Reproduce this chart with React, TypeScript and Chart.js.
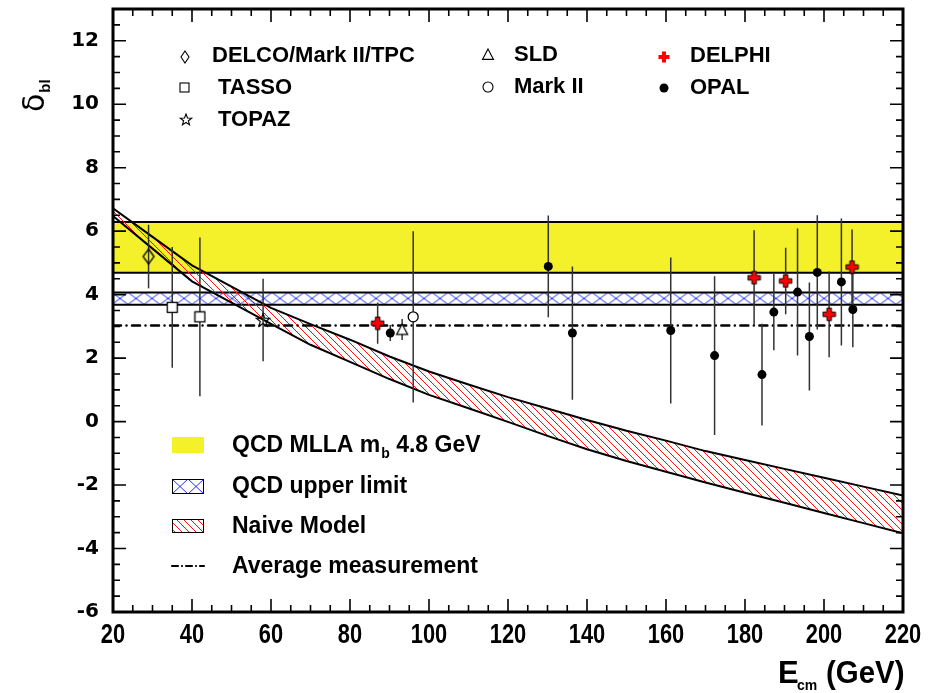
import React, { useEffect, useRef } from 'react';
import { Chart, registerables } from 'chart.js';

Chart.register(...registerables);

// ---------------- data ----------------
const X_MIN = 20, X_MAX = 220, X_MAJOR = 20, X_MINOR = 5;
const Y_MIN = -6, Y_MAX = 13, Y_MAJOR = 2, Y_MINOR = 0.5, Y_TICK_TOP = 12;

const delcoE = [29];
const delcoD = [5.2];
const delcoErr = [1.0];

const tassoE = [35, 42];
const tassoD = [3.6, 3.3];
const tassoErr = [1.9, 2.5];

const topazE = [58];
const topazD = [3.2];
const topazErr = [1.3];

const sldE = [93.2];
const sldD = [2.9];
const sldErr = [0.33];

const mark2E = [96];
const mark2D = [3.3];
const mark2Err = [2.7];

const delphiE = [87, 182.3, 190.3, 201.3, 207.1];
const delphiD = [3.1, 4.53, 4.43, 3.38, 4.87];
const delphiErr = [0.65, 1.5, 1.05, 1.35, 1.18];

const opalE = [90.2, 130.2, 136.3, 161.2, 172.3, 184.3, 187.3, 193.3, 196.3, 198.3, 204.4, 207.3];
const opalD = [2.79, 4.89, 2.79, 2.87, 2.08, 1.48, 3.45, 4.08, 2.68, 4.7, 4.4, 3.53];
const opalErr = [0.25, 1.6, 2.1, 2.3, 2.5, 1.6, 1.2, 2.0, 1.7, 1.8, 2.0, 1.19];

const mllaBand = [4.69, 6.29];
const upperLimitBand = [3.68, 4.07];
const averageValue = 3.03;

const naiveE = [20, 30, 40, 50, 60, 70, 80, 90, 100, 110, 120, 130, 140, 150, 160, 170, 180, 190, 200, 210, 220];
const naiveUpper = [6.72, 5.82, 4.92, 4.25, 3.58, 3.07, 2.58, 2.05, 1.58, 1.17, 0.77, 0.41, 0.05, -0.29, -0.6, -0.93, -1.21, -1.49, -1.77, -2.05, -2.33];
const naiveLower = [6.48, 5.45, 4.42, 3.75, 3.08, 2.42, 1.88, 1.34, 0.84, 0.42, -0.01, -0.45, -0.87, -1.24, -1.58, -1.92, -2.24, -2.56, -2.88, -3.2, -3.52];

const topLegend = ['DELCO/Mark II/TPC', 'TASSO', 'TOPAZ', 'SLD', 'Mark II', 'DELPHI', 'OPAL'];
const bottomLegend = ['QCD MLLA m', 'b', ' 4.8 GeV', 'QCD upper limit', 'Naive Model', 'Average measurement'];

// ---------------- styles ----------------
const YELLOW = '#f4f02a';
const SANS = '"Liberation Sans", Arial, sans-serif';

const pts = (xs: number[], ys: number[]) => xs.map((x, i) => ({ x, y: ys[i] }));

function pathDiamond(g: CanvasRenderingContext2D, cx: number, cy: number, w: number, h: number) {
  g.beginPath();
  g.moveTo(cx, cy - h / 2);
  g.lineTo(cx + w / 2, cy);
  g.lineTo(cx, cy + h / 2);
  g.lineTo(cx - w / 2, cy);
  g.closePath();
}
function pathStar(g: CanvasRenderingContext2D, cx: number, cy: number, R: number) {
  const r = R * 0.42;
  g.beginPath();
  for (let i = 0; i < 10; i++) {
    const ang = -Math.PI / 2 + (i * Math.PI) / 5;
    const rr = i % 2 === 0 ? R : r;
    const x = cx + rr * Math.cos(ang), y = cy + rr * Math.sin(ang);
    if (i === 0) g.moveTo(x, y); else g.lineTo(x, y);
  }
  g.closePath();
}
function pathTriangle(g: CanvasRenderingContext2D, cx: number, cy: number, s: number) {
  g.beginPath();
  g.moveTo(cx, cy - s * 0.55);
  g.lineTo(cx + s / 2, cy + s * 0.4);
  g.lineTo(cx - s / 2, cy + s * 0.4);
  g.closePath();
}
function pathCross(g: CanvasRenderingContext2D, cx: number, cy: number, s: number, t: number) {
  const a = s / 2, b = t / 2;
  g.beginPath();
  g.moveTo(cx - b, cy - a); g.lineTo(cx + b, cy - a); g.lineTo(cx + b, cy - b);
  g.lineTo(cx + a, cy - b); g.lineTo(cx + a, cy + b); g.lineTo(cx + b, cy + b);
  g.lineTo(cx + b, cy + a); g.lineTo(cx - b, cy + a); g.lineTo(cx - b, cy + b);
  g.lineTo(cx - a, cy + b); g.lineTo(cx - a, cy - b); g.lineTo(cx - b, cy - b);
  g.closePath();
}

function markerCanvas(w: number, h: number, draw: (g: CanvasRenderingContext2D) => void) {
  const c = document.createElement('canvas');
  c.width = w; c.height = h;
  const g = c.getContext('2d')!;
  draw(g);
  return c;
}

function makeHatch(s: number, color: string) {
  const c = document.createElement('canvas');
  c.width = s; c.height = s;
  const g = c.getContext('2d')!;
  g.strokeStyle = color; g.lineWidth = 1;
  g.beginPath();
  g.moveTo(-1, -1); g.lineTo(s + 1, s + 1);
  g.moveTo(-1, s - 1); g.lineTo(1, s + 1);
  g.moveTo(s - 1, -1); g.lineTo(s + 1, 1);
  g.stroke();
  return g.createPattern(c, 'repeat')!;
}
function makeCross(w: number, h: number, color: string) {
  const c = document.createElement('canvas');
  c.width = w; c.height = h;
  const g = c.getContext('2d')!;
  g.strokeStyle = color; g.lineWidth = 1;
  g.beginPath();
  g.moveTo(0, 0); g.lineTo(w, h);
  g.moveTo(0, h); g.lineTo(w, 0);
  g.stroke();
  return g.createPattern(c, 'repeat')!;
}

const AVG_DASH = [8, 5.5, 0.01, 5.5];

export default function App() {
  const ref = useRef<HTMLCanvasElement>(null);

  useEffect(() => {
    const canvas = ref.current!;
    const redHatch = makeHatch(7, '#ff1010');
    const blueCross = makeCross(16, 12, '#2030ff');
    const legendCross = makeCross(16, 15, '#2030ff');

    const diamondImg = markerCanvas(14, 18, (g) => {
      pathDiamond(g, 7, 9, 11, 15); g.strokeStyle = '#000'; g.lineWidth = 1.3; g.stroke();
    });
    const squareImg = markerCanvas(13, 13, (g) => {
      g.fillStyle = '#fff'; g.fillRect(1, 1, 11, 11);
      g.strokeStyle = '#000'; g.lineWidth = 1.3; g.strokeRect(1.5, 1.5, 10, 10);
    });
    const starImg = markerCanvas(16, 16, (g) => {
      pathStar(g, 8, 8.5, 7); g.strokeStyle = '#000'; g.lineWidth = 1.2; g.stroke();
    });
    const triImg = markerCanvas(14, 14, (g) => {
      pathTriangle(g, 7, 7.5, 11); g.fillStyle = '#fff'; g.fill(); g.strokeStyle = '#000'; g.lineWidth = 1.2; g.stroke();
    });
    const crossImg = markerCanvas(15, 15, (g) => {
      pathCross(g, 7.5, 7.5, 12.5, 4.5); g.fillStyle = '#ff0000'; g.fill(); g.strokeStyle = '#000'; g.lineWidth = 1; g.stroke();
    });

    const band = (v: number) => [{ x: X_MIN, y: v }, { x: X_MAX, y: v }];
    const line = { pointRadius: 0, borderColor: '#000', borderWidth: 2, tension: 0 };
    const scatterBase = { showLine: false, pointHoverRadius: 0 };

    const decor = {
      id: 'decor',
      beforeDatasetsDraw(chart: any) {
        const ys = chart.scales.y;
        const top = ys.getPixelForValue(upperLimitBand[1]);
        blueCross.setTransform(new DOMMatrix([1, 0, 0, 1, 0, top]));
      },
      beforeDatasetDraw(chart: any, args: any) {
        const ds = chart.data.datasets[args.index];
        if (!ds.errors) return;
        const { ctx } = chart;
        const xs = chart.scales.x, ys = chart.scales.y;
        ctx.save();
        ctx.strokeStyle = '#333';
        ctx.lineWidth = 1.5;
        ctx.beginPath();
        ds.data.forEach((p: any, i: number) => {
          const x = xs.getPixelForValue(p.x);
          ctx.moveTo(x, ys.getPixelForValue(p.y - ds.errors[i]));
          ctx.lineTo(x, ys.getPixelForValue(p.y + ds.errors[i]));
        });
        ctx.stroke();
        ctx.restore();
      },
      afterDraw(chart: any) {
        const { ctx, chartArea: a } = chart;
        const xs = chart.scales.x, ys = chart.scales.y;
        ctx.save();
        // tick marks on all four sides, inward
        ctx.strokeStyle = '#000';
        ctx.lineWidth = 1.6;
        ctx.beginPath();
        for (let v = X_MIN; v <= X_MAX + 1e-9; v += X_MINOR) {
          const q = (v - X_MIN) / X_MAJOR;
          const len = Math.abs(q - Math.round(q)) < 1e-6 ? 13 : 7;
          const px = xs.getPixelForValue(v);
          ctx.moveTo(px, a.bottom); ctx.lineTo(px, a.bottom - len);
          ctx.moveTo(px, a.top); ctx.lineTo(px, a.top + len);
        }
        for (let v = Y_MIN; v <= Y_MAX + 1e-9; v += Y_MINOR) {
          const q = (v - Y_MIN) / Y_MAJOR;
          const len = Math.abs(q - Math.round(q)) < 1e-6 ? 13 : 7;
          const py = ys.getPixelForValue(v);
          ctx.moveTo(a.left, py); ctx.lineTo(a.left + len, py);
          ctx.moveTo(a.right, py); ctx.lineTo(a.right - len, py);
        }
        ctx.stroke();
        ctx.lineWidth = 3;
        ctx.strokeRect(a.left, a.top, a.right - a.left, a.bottom - a.top);

        // x tick labels (condensed), positioned from the scale's ticks
        ctx.fillStyle = '#000';
        ctx.textAlign = 'center';
        ctx.textBaseline = 'alphabetic';
        ctx.font = `bold 28px ${SANS}`;
        xs.ticks.forEach((t: any) => {
          const px = xs.getPixelForValue(t.value);
          ctx.save();
          ctx.translate(px, a.bottom + 31);
          ctx.scale(0.78, 1);
          ctx.fillText(String(t.value), 0, 0);
          ctx.restore();
        });

        // top legend
        ctx.textBaseline = 'middle';
        ctx.textAlign = 'left';
        ctx.font = `bold 22px ${SANS}`;
        const rows = [
          { t: topLegend[0], x: 212, y: 56 },
          { t: topLegend[1], x: 218, y: 88 },
          { t: topLegend[2], x: 218, y: 120 },
          { t: topLegend[3], x: 514, y: 55 },
          { t: topLegend[4], x: 514, y: 87 },
          { t: topLegend[5], x: 690, y: 56 },
          { t: topLegend[6], x: 690, y: 88 },
        ];
        rows.forEach((r) => ctx.fillText(r.t, r.x, r.y));
        ctx.lineWidth = 1.1;
        ctx.strokeStyle = '#000';
        pathDiamond(ctx, 185, 57, 8, 12); ctx.stroke();
        ctx.strokeRect(180, 83, 9, 9);
        pathStar(ctx, 186, 120, 6); ctx.stroke();
        pathTriangle(ctx, 488, 55, 11); ctx.stroke();
        ctx.beginPath(); ctx.arc(488, 87, 5, 0, Math.PI * 2); ctx.stroke();
        pathCross(ctx, 664, 57, 11, 4); ctx.fillStyle = '#ff0000'; ctx.fill();
        ctx.fillStyle = '#000';
        ctx.beginPath(); ctx.arc(664, 88, 4.5, 0, Math.PI * 2); ctx.fill();

        // bottom legend
        const bx = 172, bw = 32, tx = 232;
        ctx.fillStyle = YELLOW;
        ctx.fillRect(bx, 437, bw, 16);
        ctx.save();
        legendCross.setTransform(new DOMMatrix([1, 0, 0, 1, bx, 479]));
        ctx.fillStyle = legendCross;
        ctx.fillRect(bx, 479, bw, 15);
        ctx.restore();
        ctx.strokeStyle = '#000'; ctx.lineWidth = 1;
        ctx.strokeRect(bx + 0.5, 479.5, bw - 1, 14);
        ctx.fillStyle = redHatch;
        ctx.fillRect(bx, 519, bw, 14);
        ctx.strokeRect(bx + 0.5, 519.5, bw - 1, 13);
        ctx.save();
        ctx.lineWidth = 2.2; ctx.lineCap = 'round';
        ctx.setLineDash([6, 4, 0.01, 4]);
        ctx.beginPath(); ctx.moveTo(bx, 566); ctx.lineTo(bx + bw, 566); ctx.stroke();
        ctx.restore();

        ctx.fillStyle = '#000';
        ctx.font = `bold 23px ${SANS}`;
        ctx.fillText(bottomLegend[0], tx, 446);
        const w = ctx.measureText(bottomLegend[0]).width;
        ctx.font = `bold 14px ${SANS}`;
        ctx.fillText(bottomLegend[1], tx + w + 1, 454);
        const w2 = ctx.measureText(bottomLegend[1]).width;
        ctx.font = `bold 23px ${SANS}`;
        ctx.fillText(bottomLegend[2], tx + w + w2 + 1, 446);
        ctx.fillText(bottomLegend[3], tx, 487);
        ctx.fillText(bottomLegend[4], tx, 527);
        ctx.fillText(bottomLegend[5], tx, 567);

        // x title
        ctx.textBaseline = 'alphabetic';
        ctx.font = `bold 31px ${SANS}`;
        ctx.fillText('E', 778, 683);
        ctx.font = `bold 14px ${SANS}`;
        ctx.fillText('cm', 797, 690);
        ctx.save();
        ctx.translate(826, 683);
        ctx.scale(0.95, 1);
        ctx.font = `bold 31px ${SANS}`;
        ctx.fillText('(GeV)', 0, 0);
        ctx.restore();

        // y title (rotated)
        ctx.save();
        ctx.translate(44, 112);
        ctx.rotate(-Math.PI / 2);
        ctx.font = `30px "DejaVu Sans", sans-serif`;
        ctx.fillText('δ', 0, 0);
        const wd = ctx.measureText('δ').width;
        ctx.font = `bold 15px ${SANS}`;
        ctx.fillText('bl', wd + 1, 6);
        ctx.restore();

        ctx.restore();
      },
    };

    const chart = new Chart(canvas, {
      type: 'line',
      data: {
        datasets: [
          { label: 'DELPHI', data: pts(delphiE, delphiD), errors: delphiErr, ...scatterBase, pointStyle: crossImg, order: 0 } as any,
          { label: 'OPAL', data: pts(opalE, opalD), errors: opalErr, ...scatterBase, pointStyle: 'circle', pointRadius: 4.5, backgroundColor: '#000', borderColor: '#000', borderWidth: 0, order: 1 } as any,
          { label: 'Mark II', data: pts(mark2E, mark2D), errors: mark2Err, ...scatterBase, pointStyle: 'circle', pointRadius: 5, backgroundColor: '#fff', borderColor: '#000', borderWidth: 1.3, order: 2 } as any,
          { label: 'SLD', data: pts(sldE, sldD), errors: sldErr, ...scatterBase, pointStyle: triImg, order: 2 } as any,
          { label: 'TOPAZ', data: pts(topazE, topazD), errors: topazErr, ...scatterBase, pointStyle: starImg, order: 2 } as any,
          { label: 'TASSO', data: pts(tassoE, tassoD), errors: tassoErr, ...scatterBase, pointStyle: squareImg, order: 2 } as any,
          { label: 'DELCO/Mark II/TPC', data: pts(delcoE, delcoD), errors: delcoErr, ...scatterBase, pointStyle: diamondImg, order: 2 } as any,
          { label: 'Average measurement', data: band(averageValue), ...line, borderWidth: 2.5, borderDash: AVG_DASH, borderCapStyle: 'round', fill: false, order: 5 } as any,
          { label: 'Naive lower', data: pts(naiveE, naiveLower), ...line, fill: false, order: 6 } as any,
          { label: 'Naive Model', data: pts(naiveE, naiveUpper), ...line, fill: '-1', backgroundColor: redHatch, order: 7 } as any,
          { label: 'Upper lo', data: band(upperLimitBand[0]), ...line, fill: false, order: 8 } as any,
          { label: 'QCD upper limit', data: band(upperLimitBand[1]), ...line, fill: '-1', backgroundColor: blueCross, order: 9 } as any,
          { label: 'MLLA lo', data: band(mllaBand[0]), ...line, fill: false, order: 10 } as any,
          { label: 'QCD MLLA', data: band(mllaBand[1]), ...line, fill: '-1', backgroundColor: YELLOW, order: 11 } as any,
        ],
      },
      options: {
        animation: false,
        responsive: true,
        maintainAspectRatio: false,
        events: [],
        layout: { padding: { top: 9, right: 39, left: 0, bottom: 0 } },
        plugins: { legend: { display: false }, tooltip: { enabled: false } },
        scales: {
          x: {
            type: 'linear',
            min: X_MIN,
            max: X_MAX,
            grid: { display: false, drawTicks: false },
            border: { display: false },
            ticks: {
              stepSize: X_MAJOR,
              autoSkip: false,
              maxRotation: 0,
              display: false,
            },
            afterFit: (s: any) => { s.height = 81; s.paddingLeft = 0; s.paddingRight = 0; },
          },
          y: {
            type: 'linear',
            min: Y_MIN,
            max: Y_MAX,
            grid: { display: false, drawTicks: false },
            border: { display: false },
            ticks: {
              stepSize: Y_MAJOR,
              autoSkip: false,
              padding: 14,
              color: '#000',
              font: { family: '"DejaVu Sans", sans-serif', size: 20, weight: 'bold' },
            },
            afterBuildTicks: (s: any) => { s.ticks = s.ticks.filter((t: any) => t.value <= Y_TICK_TOP); },
            afterFit: (s: any) => { s.width = 113; s.paddingTop = 0; s.paddingBottom = 0; },
          },
        },
      } as any,
      plugins: [decor as any],
    });
    return () => chart.destroy();
  }, []);

  return (
    <div style={{ position: 'fixed', left: 0, top: 0, width: 942, height: 693, background: '#fff' }}>
      <canvas ref={ref} />
    </div>
  );
}
